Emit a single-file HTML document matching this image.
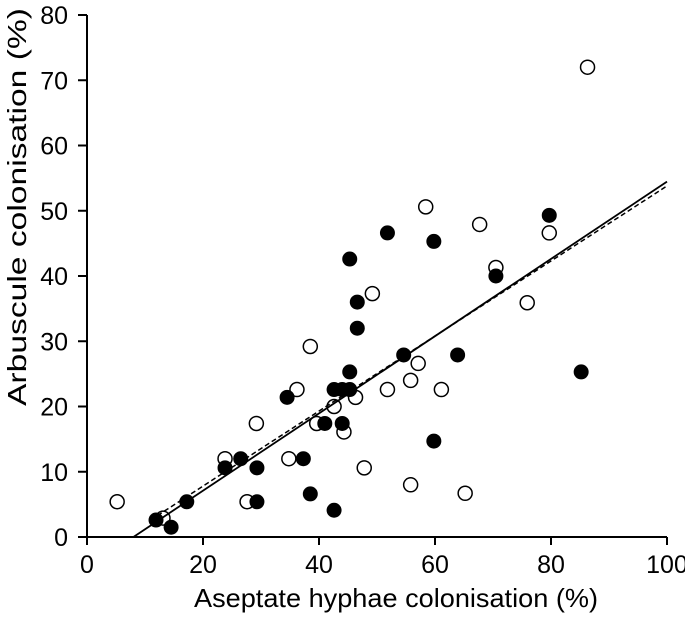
<!DOCTYPE html>
<html><head><meta charset="utf-8"><style>
html,body{margin:0;padding:0;background:#fff;}
svg{display:block;font-family:"Liberation Sans",Arial,sans-serif;}
</style></head><body>
<svg id="chart" width="685" height="617" viewBox="0 0 685 617"></svg>
<script>
const xTicks=[0,20,40,60,80,100];
const yTicks=[0,10,20,30,40,50,60,70,80];
const openX=[5.2,13.1,23.8,36.2,38.5,29.2,27.6,34.8,39.6,42.6,44.3,46.3,47.8,58.4,67.7,79.7,70.5,75.9,49.2,57.1,55.8,51.8,61.1,55.8,65.2,86.3];
const openY=[5.4,2.9,12,22.6,29.2,17.4,5.4,12,17.4,20,16.1,21.4,10.6,50.6,47.9,46.6,41.3,35.9,37.3,26.6,24,22.6,22.6,8,6.7,72];
const filledX=[11.9,14.5,17.2,23.8,26.5,29.3,29.3,34.5,37.3,38.5,42.6,41,44,45.3,42.6,44,45.3,46.6,79.7,51.8,59.8,45.3,46.6,54.6,63.9,85.2,70.5,59.8];
const filledY=[2.6,1.5,5.4,10.6,12,10.6,5.4,21.4,12,6.6,4.1,17.4,17.4,25.3,22.6,22.6,22.6,36,49.3,46.6,45.3,42.6,32,27.9,27.9,25.3,40,14.7];
const solidFit=[-4.74,0.592];
const dashedFit=[-3.7,0.575];
const NS="http://www.w3.org/2000/svg";
const svg=document.getElementById('chart');
const X0=87,X1=667,Y0=537,Y1=15;
function sx(v){return X0+(v-0)/100*(X1-X0);}
function sy(v){return Y0-(v-0)/80*(Y0-Y1);}
function mk(t,a){const e=document.createElementNS(NS,t);for(const k in a)e.setAttribute(k,a[k]);svg.appendChild(e);return e;}
let e;
e=mk('line',{x1:X0,y1:Y1,x2:X0,y2:Y0+1,stroke:'#000','stroke-width':2});


e=mk('line',{x1:X0-1,y1:Y0,x2:X1,y2:Y0,stroke:'#000','stroke-width':2});


xTicks.forEach(v=>{
 e=mk('line',{x1:sx(v),y1:Y0,x2:sx(v),y2:Y0+8,stroke:'#000','stroke-width':2});
 
 
 e=mk('text',{x:sx(v),y:573,'text-anchor':'middle','font-size':25,fill:'#000'});e.textContent=v;
 
 
});
yTicks.forEach(v=>{
 e=mk('line',{x1:X0-9,y1:sy(v),x2:X0,y2:sy(v),stroke:'#000','stroke-width':2});
 
 
 e=mk('text',{x:X0-19,y:sy(v)+9,'text-anchor':'end','font-size':25,fill:'#000'});e.textContent=v;
 
 
});
e=mk('text',{x:396,y:607,'text-anchor':'middle','font-size':26,fill:'#000',textLength:404,lengthAdjust:'spacingAndGlyphs'});e.textContent='Aseptate hyphae colonisation (%)';


e=mk('text',{x:0,y:0,'text-anchor':'middle','font-size':26,fill:'#000',textLength:398,lengthAdjust:'spacingAndGlyphs',transform:'translate(26,207) rotate(-90)'});e.textContent='Arbuscule colonisation (%)';


openX.forEach((v,i)=>{
 e=mk('circle',{cx:sx(v),cy:sy(openY[i]),r:7,fill:'#fff',stroke:'#000','stroke-width':1.5});
 
 
});
filledX.forEach((v,i)=>{
 e=mk('circle',{cx:sx(v),cy:sy(filledY[i]),r:7.5,fill:'#000'});
 
 
});
const s0=-solidFit[0]/solidFit[1];
e=mk('line',{x1:sx(s0),y1:sy(0),x2:sx(100),y2:sy(solidFit[0]+solidFit[1]*100),stroke:'#000','stroke-width':1.8});


e=mk('line',{x1:sx(11),y1:sy(dashedFit[0]+dashedFit[1]*11),x2:sx(100),y2:sy(dashedFit[0]+dashedFit[1]*100),stroke:'#000','stroke-width':1.5,'stroke-dasharray':'5,3'});


</script>
</body></html>
